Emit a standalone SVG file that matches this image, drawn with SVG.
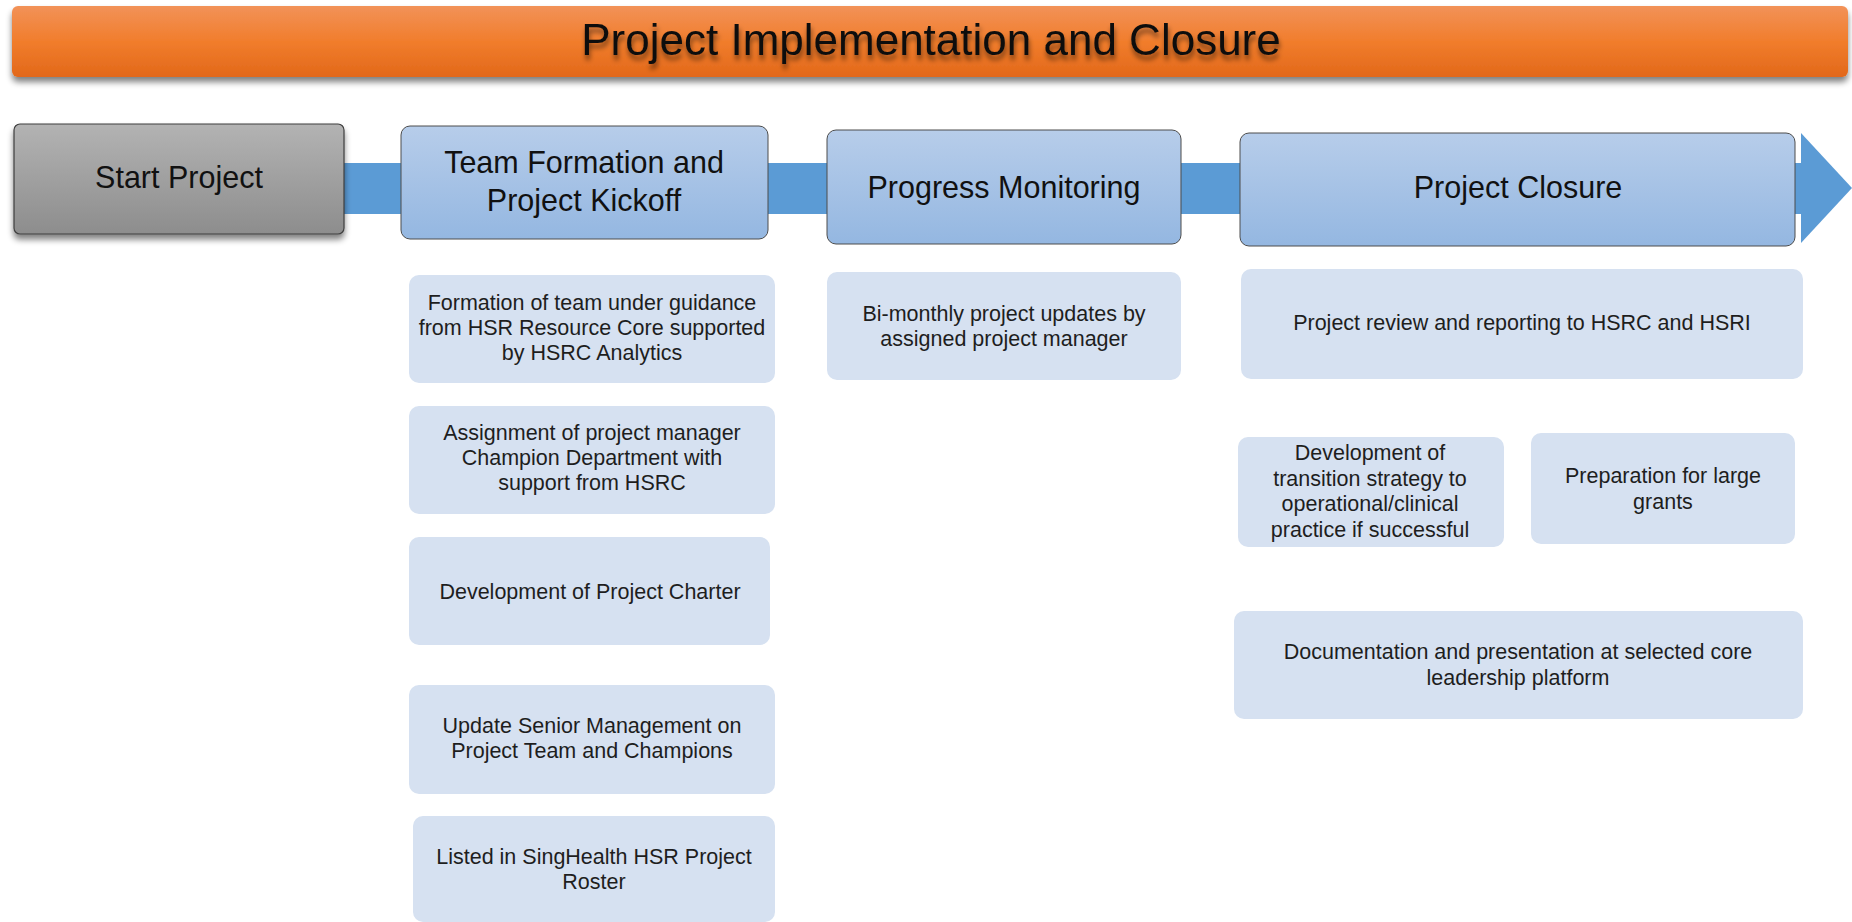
<svg xmlns="http://www.w3.org/2000/svg" width="1852" height="922" viewBox="0 0 1852 922">
<defs>
<linearGradient id="gOrange" x1="0" y1="0" x2="0" y2="1">
<stop offset="0" stop-color="#f29258"/>
<stop offset="0.5" stop-color="#f17d2c"/>
<stop offset="1" stop-color="#e2681a"/>
</linearGradient>
<linearGradient id="gGray" x1="0" y1="0" x2="0" y2="1">
<stop offset="0" stop-color="#b3b3b3"/>
<stop offset="1" stop-color="#8d8d8d"/>
</linearGradient>
<linearGradient id="gBlue" x1="0" y1="0" x2="0" y2="1">
<stop offset="0" stop-color="#b7cdea"/>
<stop offset="1" stop-color="#94b7e1"/>
</linearGradient>
<filter id="shadow" x="-5%" y="-20%" width="110%" height="150%">
<feGaussianBlur in="SourceAlpha" stdDeviation="3"/>
<feOffset dx="0" dy="5" result="b"/>
<feComponentTransfer><feFuncA type="linear" slope="0.5"/></feComponentTransfer>
<feMerge><feMergeNode/><feMergeNode in="SourceGraphic"/></feMerge>
</filter>
<filter id="tshadow" x="-5%" y="-30%" width="110%" height="170%">
<feGaussianBlur in="SourceAlpha" stdDeviation="2.5"/>
<feOffset dx="1" dy="5" result="b"/>
<feComponentTransfer><feFuncA type="linear" slope="0.5"/></feComponentTransfer>
<feMerge><feMergeNode/><feMergeNode in="SourceGraphic"/></feMerge>
</filter>
</defs>
<style>
.hdr{fill:url(#gBlue);stroke:#4d4d4d;stroke-width:1}
.det{fill:#d6e1f1}
.ht{font-family:"Liberation Sans",Arial,sans-serif;font-size:30.5px;fill:#111;text-anchor:middle}
.dt{font-family:"Liberation Sans",Arial,sans-serif;font-size:21.5px;fill:#1e1e1e;text-anchor:middle}
</style>
<rect width="1852" height="922" fill="#ffffff"/>

<g id="title">
<rect x="12" y="6" width="1836" height="71" rx="6" fill="url(#gOrange)" filter="url(#shadow)"/>
<text x="931" y="55" font-family="'Liberation Sans',Arial,sans-serif" font-size="44" fill="#111" text-anchor="middle" filter="url(#tshadow)">Project Implementation and Closure</text>
</g>

<g id="connectors">
<rect x="300" y="163" width="1503" height="51" fill="#5b9bd5"/>
<polygon points="1801,133 1852,188 1801,243" fill="#5b9bd5"/>
</g>

<g id="start">
<rect x="14" y="124" width="330" height="110" rx="6" fill="url(#gGray)" stroke="#3f3f3f" stroke-width="1.2" filter="url(#shadow)"/>
<text class="ht" x="179" y="188">Start Project</text>
</g>

<g id="team">
<rect class="hdr" x="401" y="126" width="367" height="113" rx="9"/>
<text class="ht" x="584" y="173">Team Formation and</text>
<text class="ht" x="584" y="211">Project Kickoff</text>
</g>

<g id="progress">
<rect class="hdr" x="827" y="130" width="354" height="114" rx="9"/>
<text class="ht" x="1004" y="198">Progress Monitoring</text>
</g>

<g id="closure">
<rect class="hdr" x="1240" y="133" width="555" height="113" rx="9"/>
<text class="ht" x="1518" y="198">Project Closure</text>
</g>

<g id="d1">
<rect class="det" x="409" y="275" width="366" height="108" rx="10"/>
<text class="dt" x="592" y="310">Formation of team under guidance</text>
<text class="dt" x="592" y="335">from HSR Resource Core supported</text>
<text class="dt" x="592" y="360">by HSRC Analytics</text>
</g>

<g id="d2">
<rect class="det" x="409" y="406" width="366" height="108" rx="10"/>
<text class="dt" x="592" y="440">Assignment of project manager</text>
<text class="dt" x="592" y="465">Champion Department with</text>
<text class="dt" x="592" y="490">support from HSRC</text>
</g>

<g id="d3">
<rect class="det" x="409" y="537" width="361" height="108" rx="10"/>
<text class="dt" x="590" y="599">Development of Project Charter</text>
</g>

<g id="d4">
<rect class="det" x="409" y="685" width="366" height="109" rx="10"/>
<text class="dt" x="592" y="733">Update Senior Management on</text>
<text class="dt" x="592" y="758">Project Team and Champions</text>
</g>

<g id="d5">
<rect class="det" x="413" y="816" width="362" height="106" rx="10"/>
<text class="dt" x="594" y="864">Listed in SingHealth HSR Project</text>
<text class="dt" x="594" y="889">Roster</text>
</g>

<g id="d6">
<rect class="det" x="827" y="272" width="354" height="108" rx="10"/>
<text class="dt" x="1004" y="321">Bi-monthly project updates by</text>
<text class="dt" x="1004" y="346">assigned project manager</text>
</g>

<g id="d7">
<rect class="det" x="1241" y="269" width="562" height="110" rx="10"/>
<text class="dt" x="1522" y="330">Project review and reporting to HSRC and HSRI</text>
</g>

<g id="d8">
<rect class="det" x="1238" y="437" width="266" height="110" rx="10"/>
<text class="dt" x="1370" y="460">Development of</text>
<text class="dt" x="1370" y="485.5">transition strategy to</text>
<text class="dt" x="1370" y="511">operational/clinical</text>
<text class="dt" x="1370" y="536.5">practice if successful</text>
</g>

<g id="d9">
<rect class="det" x="1531" y="433" width="264" height="111" rx="10"/>
<text class="dt" x="1663" y="483">Preparation for large</text>
<text class="dt" x="1663" y="509">grants</text>
</g>

<g id="d10">
<rect class="det" x="1234" y="611" width="569" height="108" rx="10"/>
<text class="dt" x="1518" y="659">Documentation and presentation at selected core</text>
<text class="dt" x="1518" y="685">leadership platform</text>
</g>
</svg>
